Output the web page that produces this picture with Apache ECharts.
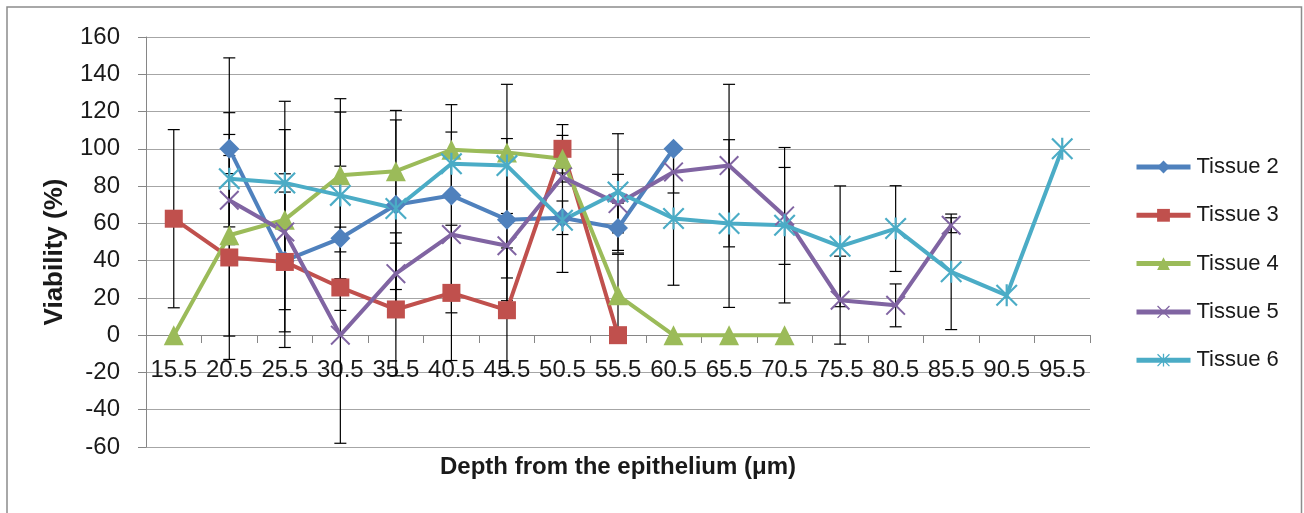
<!DOCTYPE html>
<html>
<head>
<meta charset="utf-8">
<script src="https://cdn.jsdelivr.net/npm/echarts@6/dist/echarts.min.js"></script>
<style>
  html, body { margin: 0; padding: 0; background: #fff; }
  #chart { width: 1304px; height: 513px; }
</style>
</head>
<body>
<div id="chart"></div>
<script>
const depths = ['15.5', '20.5', '25.5', '30.5', '35.5', '40.5', '45.5', '50.5', '55.5',
                '60.5', '65.5', '70.5', '75.5', '80.5', '85.5', '90.5', '95.5'];

const tissue2 = [null, 100, 40, 52, 70, 75, 62, 63, 57.5, 100, null, null, null, null, null, null, null];
const tissue3 = [62.5, 41.7, 39.3, 25.6, 13.8, 22.7, 13.4, 100, 0, null, null, null, null, null, null, null, null];
const tissue4 = [0, 53.6, 62, 85.8, 88, 99.5, 98, 94.7, 21.4, 0, 0, 0, null, null, null, null, null];
const tissue5 = [null, 72.4, 55.4, 0, 33, 54, 48, 84.9, 70.6, 87.6, 91, 64, 18.8, 16, 59, null, null];
const tissue6 = [null, 84, 81.7, 75, 68, 92, 91, 61.7, 76.8, 62.6, 59.9, 59, 47.7, 57.2, 34, 21.4, 100];

// standard deviations (error bars), null = no bar
const tissue2Err = [null, 48.8, 46.6, 38.7, 45.5, 48.7, 43.5, 9, 13.4, null, null, null, null, null, null, null, null];
const tissue3Err = [47.8, 54.7, 37.5, null, 35.6, 36.3, 33.4, 13, null, null, null, null, null, null, null, null, null];
const tissue4Err = [null, 54.1, 48.3, 41.1, null, null, 36.6, 12.5, 22, null, null, null, null, null, null, null, null];
const tissue5Err = [null, 14.3, null, 58, 21.9, 42, 17.3, null, 15.7, 11.3, 43.6, 26, 23.6, 11.5, 4, null, null];
const tissue6Err = [null, 35.4, 43.8, 44.7, 52.6, 17, null, 28, 31.3, 35.8, 45, 41.7, 32.4, 23, 31, null, null];

const names = ['Tissue 2', 'Tissue 3', 'Tissue 4', 'Tissue 5', 'Tissue 6'];
const colors = ['#4F81BD', '#C0504D', '#9BBB59', '#8064A2', '#4BACC6'];

const xMark = 'path://M0,1.4 L1.4,0 L20,18.6 L18.6,20 Z M18.6,0 L20,1.4 L1.4,20 L0,18.6 Z';
const starMark = xMark + ' M9,0 L11,0 L11,20 L9,20 Z';
const symbols = ['diamond', 'rect', 'triangle', xMark, starMark];
const symbolSizes = [20, 18, 20, 20, 22];

const values = [tissue2, tissue3, tissue4, tissue5, tissue6];
const errors = [tissue2Err, tissue3Err, tissue4Err, tissue5Err, tissue6Err];

const errData = [];
values.forEach(function (vals, s) {
  vals.forEach(function (v, i) {
    const sd = errors[s][i];
    if (v != null && sd != null) errData.push([i, v - sd, v + sd]);
  });
});

const font = 'Liberation Sans, Arial, sans-serif';

const chart = echarts.init(document.getElementById('chart'));

const series = [{
  type: 'custom',
  name: 'error',
  z: 1,
  silent: true,
  data: errData,
  encode: { x: 0, y: [1, 2] },
  renderItem: function (params, api) {
    const top = api.coord([api.value(0), api.value(2)]);
    const bot = api.coord([api.value(0), api.value(1)]);
    const hw = 6;
    const style = { stroke: '#000', lineWidth: 1.2 };
    return {
      type: 'group',
      children: [
        { type: 'line', shape: { x1: top[0], y1: top[1], x2: bot[0], y2: bot[1] }, style: style },
        { type: 'line', shape: { x1: top[0] - hw, y1: top[1], x2: top[0] + hw, y2: top[1] }, style: style },
        { type: 'line', shape: { x1: bot[0] - hw, y1: bot[1], x2: bot[0] + hw, y2: bot[1] }, style: style }
      ]
    };
  }
}];

names.forEach(function (name, s) {
  series.push({
    type: 'line',
    name: name,
    z: 3,
    data: values[s],
    symbol: symbols[s],
    symbolSize: symbolSizes[s],
    showAllSymbol: true,
    lineStyle: { color: colors[s], width: 4 },
    itemStyle: { color: colors[s], borderWidth: 0 },
    emphasis: { disabled: true }
  });
});

const option = {
  animation: false,
  backgroundColor: '#fff',
  graphic: [{
    type: 'rect',
    shape: { x: 7, y: 7, width: 1294.5, height: 530 },
    style: { fill: 'none', stroke: '#8c8c8c', lineWidth: 1.5 },
    silent: true
  }],
  grid: { left: 146, right: 214, top: 37, bottom: 66, containLabel: false, outerBoundsMode: 'none' },
  legend: {
    data: names,
    orient: 'vertical',
    left: 1129,
    top: 151,
    itemWidth: 54,
    itemHeight: 16,
    itemGap: 26.3,
    lineStyle: { width: 5 },
    textStyle: { fontFamily: font, fontSize: 22, color: '#1a1a1a', padding: [0, 0, 0, 1] }
  },
  xAxis: {
    type: 'category',
    data: depths,
    boundaryGap: true,
    // axis sits on the zero line (112px above the plot bottom)
    offset: -112,
    name: 'Depth from the epithelium (\u03bcm)',
    nameLocation: 'middle',
    nameGap: 120,
    nameTextStyle: { fontFamily: font, fontSize: 24, fontWeight: 'bold', color: '#1a1a1a' },
    axisLine: { onZero: false, lineStyle: { color: '#868686', width: 1 } },
    axisTick: { show: true, alignWithLabel: false, length: 8, lineStyle: { color: '#868686' } },
    axisLabel: { interval: 0, margin: 23, fontFamily: font, fontSize: 24, color: '#1a1a1a' },
    splitLine: { show: false }
  },
  yAxis: {
    type: 'value',
    min: -60,
    max: 160,
    interval: 20,
    name: 'Viability (%)',
    nameLocation: 'middle',
    nameGap: 78,
    nameTextStyle: { fontFamily: font, fontSize: 26, fontWeight: 'bold', color: '#1a1a1a', padding: [0, 20, 0, 0] },
    axisLine: { show: true, lineStyle: { color: '#868686', width: 1 } },
    axisTick: { show: true, length: 8, lineStyle: { color: '#868686' } },
    axisLabel: { margin: 26, fontFamily: font, fontSize: 24, color: '#1a1a1a' },
    splitLine: { show: true, lineStyle: { color: '#a6a6a6', width: 1.2 } }
  },
  series: series
};

chart.setOption(option);
</script>
</body>
</html>
